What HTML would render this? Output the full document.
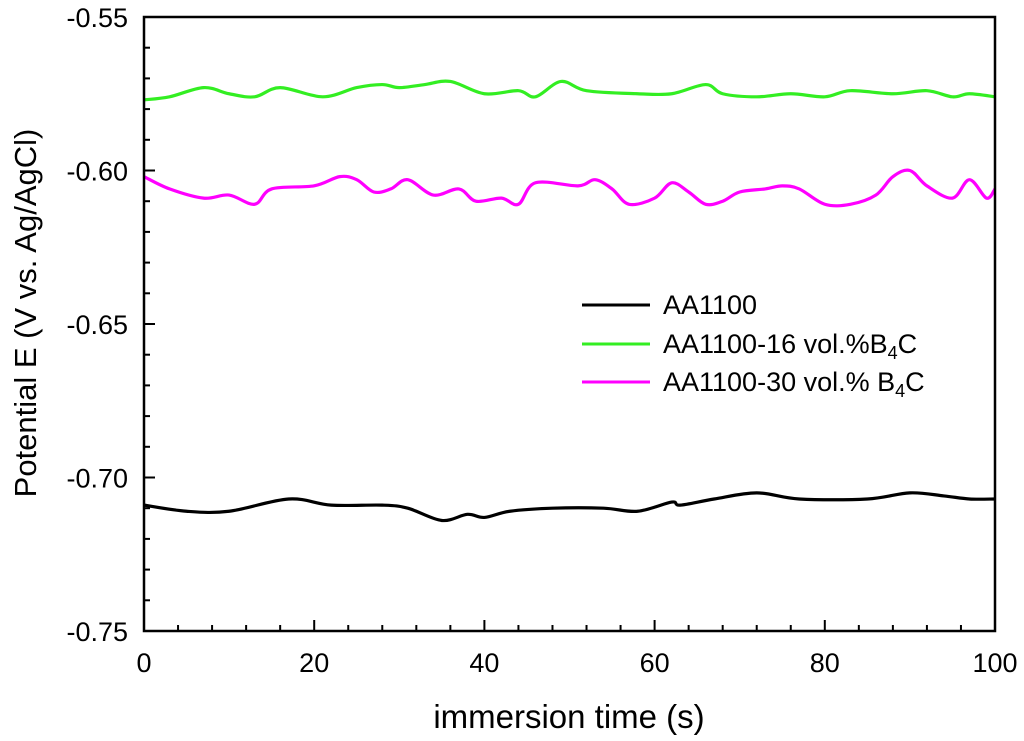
<!DOCTYPE html>
<html><head><meta charset="utf-8"><style>
body{margin:0;background:#fff;}
svg{display:block;font-family:"Liberation Sans",Arial,sans-serif;}
</style></head><body>
<svg id="chart" width="1024" height="741" viewBox="0 0 1024 741">
<g id="ticks"></g><g id="series"></g>
<rect x="144" y="17" width="851" height="614" fill="none" stroke="#000" stroke-width="2.5"/>
<text x="569" y="728" font-size="33" text-anchor="middle">immersion time (s)</text>
<text transform="translate(36,313) rotate(-90)" font-size="31" text-anchor="middle">Potential E (V vs. Ag/AgCl)</text>
<g font-size="27">
<line x1="582" y1="305" x2="650" y2="305" stroke="#000" stroke-width="3"/>
<text x="663" y="314">AA1100</text>
<line x1="582" y1="344" x2="650" y2="344" stroke="#33ee22" stroke-width="3"/>
<text x="663" y="353">AA1100-16 vol.%B<tspan font-size="18" dy="6">4</tspan><tspan dy="-6">C</tspan></text>
<line x1="582" y1="382" x2="650" y2="382" stroke="#ff00ff" stroke-width="3"/>
<text x="663" y="391">AA1100-30 vol.% B<tspan font-size="18" dy="6">4</tspan><tspan dy="-6">C</tspan></text>
</g>
</svg>
<script>
const xTicks=[0,20,40,60,80,100];
const yTicks=[-0.55,-0.60,-0.65,-0.70,-0.75];
const yTickLabels=["-0.55","-0.60","-0.65","-0.70","-0.75"];
const blackT=[0,5,10,17,22,28,31,35,38,40,43,48,54,58,62,63,67,72,77,85,90,94,97,100];
const blackV=[-0.709,-0.711,-0.711,-0.707,-0.709,-0.709,-0.710,-0.714,-0.712,-0.713,-0.711,-0.710,-0.710,-0.711,-0.708,-0.709,-0.707,-0.705,-0.707,-0.707,-0.705,-0.706,-0.707,-0.707];
const greenT=[0,3,7,10,13,16,21,25,28,30,33,36,40,44,46,49,52,58,62,66,68,72,76,80,83,88,92,95,97,100];
const greenV=[-0.577,-0.576,-0.573,-0.575,-0.576,-0.573,-0.576,-0.573,-0.572,-0.573,-0.572,-0.571,-0.575,-0.574,-0.576,-0.571,-0.574,-0.575,-0.575,-0.572,-0.575,-0.576,-0.575,-0.576,-0.574,-0.575,-0.574,-0.576,-0.575,-0.576];
const magT=[0,3,7,10,13,15,20,23,25,27,29,31,34,37,39,42,44,46,51,53,55,57,60,62,64,66,68,70,73,75,77,80,83,86,88,90,92,95,97,99,100];
const magV=[-0.602,-0.606,-0.609,-0.608,-0.611,-0.606,-0.605,-0.602,-0.603,-0.607,-0.606,-0.603,-0.608,-0.606,-0.610,-0.609,-0.611,-0.604,-0.605,-0.603,-0.606,-0.611,-0.609,-0.604,-0.607,-0.611,-0.610,-0.607,-0.606,-0.605,-0.606,-0.611,-0.611,-0.608,-0.602,-0.600,-0.605,-0.609,-0.603,-0.609,-0.606];
const X0=144,X1=995,Y0=17,Y1=631;
const xs=t=>X0+(t-0)/(100-0)*(X1-X0);
const ys=v=>Y0+(-0.55-v)/(0.2)*(Y1-Y0);
const NS="http://www.w3.org/2000/svg";
const tg=document.getElementById('ticks'),sg=document.getElementById('series');
function mk(tag,attrs,parent){const e=document.createElementNS(NS,tag);for(const k in attrs)e.setAttribute(k,attrs[k]);parent.appendChild(e);return e;}
for(let t=0;t<=100;t+=4){const x=xs(t);const major=xTicks.includes(t);
const l=mk('line',{x1:x,x2:x,y1:Y1,y2:Y1-(major?11:6),stroke:'#000','stroke-width':2},tg);

}
xTicks.forEach(t=>{const e=mk('text',{x:xs(t),y:672,'font-size':27,'text-anchor':'middle'},tg);e.textContent=t;

});
for(let i=0;i<=20;i++){const v=-0.55-i*0.01;const y=ys(v);const major=i%5==0;
const l=mk('line',{x1:X0,x2:X0+(major?11:6),y1:y,y2:y,stroke:'#000','stroke-width':2},tg);

}
yTicks.forEach((v,i)=>{const e=mk('text',{x:128,y:ys(v)+10,'font-size':27,'text-anchor':'end'},tg);e.textContent=yTickLabels[i];

});
function line(T,V,color,name){
const p=T.map((t,i)=>[xs(t),ys(V[i])]);
let d='M'+p[0][0]+','+p[0][1];
for(let i=1;i<p.length;i++){const a=p[i-2]||p[i-1],b=p[i-1],c=p[i],e=p[i+1]||c;
d+=` C${b[0]+(c[0]-a[0])/6},${b[1]+(c[1]-a[1])/6} ${c[0]-(e[0]-b[0])/6},${c[1]-(e[1]-b[1])/6} ${c[0]},${c[1]}`;}
const el=mk('path',{d:d,fill:'none',stroke:color,'stroke-width':3.2,'stroke-linejoin':'round'},sg);

}
line(blackT,blackV,'#000','series-aa1100');
line(greenT,greenV,'#33ee22','series-aa1100-16-b4c');
line(magT,magV,'#ff00ff','series-aa1100-30-b4c');
</script>
</body></html>
